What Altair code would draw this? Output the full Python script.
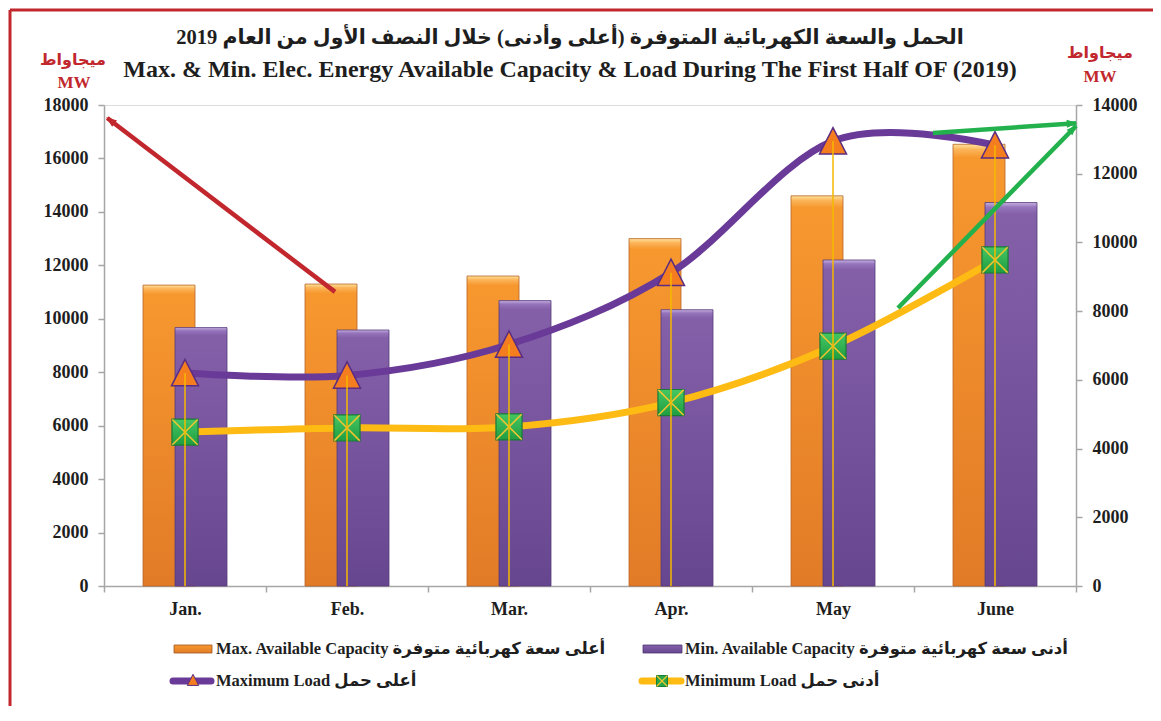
import altair as alt
import pandas as pd

# ---------------- data ----------------
months = ["Jan.", "Feb.", "Mar.", "Apr.", "May", "June"]
max_capacity = [11260, 11300, 11600, 13000, 14600, 16530]
min_capacity = [9670, 9580, 10680, 10340, 12200, 14350]
max_load = [6200, 6130, 7030, 9120, 12950, 12830]
min_load = [4480, 4600, 4630, 5340, 6980, 9490]

left_ticks = list(range(0, 18001, 2000))
right_ticks = list(range(0, 14001, 2000))

title_ar = "الحمل والسعة الكهربائية المتوفرة (أعلى وأدنى) خلال النصف الأول من العام 2019"
title_en = "Max. & Min.  Elec. Energy Available Capacity & Load During The First Half OF (2019)"
unit_ar = "ميجاواط"
unit_en = "MW"
legend_labels = [
    "Max. Available Capacity  أعلى سعة كهربائية متوفرة",
    "Min. Available Capacity أدنى سعة كهربائية متوفرة",
    "Maximum Load أعلى حمل",
    "Minimum Load أدنى حمل",
]

# annotation arrows (x in month-index units 0..6, y in right-axis MW units)
arrow_color = ["#C1272D", "#22B14C", "#22B14C"]
arrow_x0 = [1.426, 4.901, 5.117]
arrow_y0 = [8560, 8090, 13185]
arrow_x1 = [0.02, 6.0, 6.0]
arrow_y1 = [13620, 13390, 13470]
arrow_angle = [307.4, 44.7, 86.4]

df = pd.DataFrame({
    "month": months,
    "max_cap": max_capacity,
    "min_cap": min_capacity,
    "max_load": max_load,
    "min_load": min_load,
})
arrows = pd.DataFrame({
    "color": arrow_color, "x0": arrow_x0, "y0": arrow_y0,
    "x1": arrow_x1, "y1": arrow_y1, "angle": arrow_angle,
})
one = pd.DataFrame({"k": [0]})

# ---------------- style ----------------
W, H = 972, 481
FONT = "Liberation Serif, Times New Roman, DejaVu Sans, serif"
TXT = "#1E1E1E"
AXC = "#A6A6A6"
RED = "#C1272D"

orange_grad = alt.Gradient(
    gradient="linear", x1=0, x2=0, y1=0, y2=1,
    stops=[alt.GradientStop(color="#FFE39A", offset=0),
           alt.GradientStop(color="#FBB55A", offset=0.012),
           alt.GradientStop(color="#F7982F", offset=0.03),
           alt.GradientStop(color="#E27B27", offset=1)])
purple_grad = alt.Gradient(
    gradient="linear", x1=0, x2=0, y1=0, y2=1,
    stops=[alt.GradientStop(color="#C7B2E0", offset=0),
           alt.GradientStop(color="#9675BC", offset=0.012),
           alt.GradientStop(color="#8460A9", offset=0.03),
           alt.GradientStop(color="#674690", offset=1)])
green_grad = alt.Gradient(
    gradient="linear", x1=0, x2=0, y1=0, y2=1,
    stops=[alt.GradientStop(color="#45C763", offset=0),
           alt.GradientStop(color="#1F9D41", offset=1)])

TRI = "M0,-1L1,0.95L-1,0.95Z"
XSHAPE = "M-1,-1L1,1M-1,1L1,-1"
HEAD = "M0,0L0.6,1.6L-0.6,1.6Z"

band = alt.Scale(type="band", domain=months, paddingInner=0, paddingOuter=0)
left_scale = alt.Scale(domain=[0, 18000], nice=False, zero=True)
right_scale = alt.Scale(domain=[0, 14000], nice=False, zero=True)

def xb(axis=None):
    if axis is None:
        return alt.X("month:N", sort=months, scale=band, axis=None, bandPosition=0.5)
    return alt.X("month:N", sort=months, scale=band, axis=axis)

x_axis = alt.Axis(orient="bottom", title=None, tickBand="extent", labelAngle=0,
                  labelFont=FONT, labelFontSize=18, labelFontWeight="bold",
                  labelColor=TXT, labelPadding=8, tickSize=6, tickWidth=1.5,
                  tickColor=AXC, domainColor=AXC, domainWidth=1.5, grid=False)
left_axis = alt.Axis(orient="left", title=None, values=left_ticks, format="d",
                     labelFont=FONT, labelFontSize=18, labelFontWeight="bold",
                     labelColor=TXT, labelPadding=10, tickSize=6, tickWidth=1.5,
                     tickColor=AXC, domainColor=AXC, domainWidth=1.5, grid=False)
right_axis = alt.Axis(orient="right", title=None, values=right_ticks, format="d",
                      labelFont=FONT, labelFontSize=18, labelFontWeight="bold",
                      labelColor=TXT, labelPadding=10, tickSize=6, tickWidth=1.5,
                      tickColor=AXC, domainColor=AXC, domainWidth=1.5, grid=False)

base = alt.Chart(df)

bars_max = base.mark_bar(size=52, xOffset=-16, fill=orange_grad, stroke="#B8652A",
                         strokeWidth=0.8).encode(
    x=xb(x_axis), y=alt.Y("max_cap:Q", scale=left_scale, axis=left_axis))
bars_min = base.mark_bar(size=52, xOffset=16, fill=purple_grad, stroke="#553A7A",
                         strokeWidth=0.8).encode(
    x=alt.X("month:N", sort=months, scale=band, axis=None),
    y=alt.Y("min_cap:Q", scale=left_scale, axis=None))

line_max = base.mark_line(color="#6A3A98", strokeWidth=7, interpolate="cardinal",
                          tension=0).encode(
    x=xb(), y=alt.Y("max_load:Q", scale=right_scale, axis=right_axis))
line_min = base.mark_line(color="#FDBB14", strokeWidth=7, interpolate="cardinal",
                          tension=0).encode(
    x=xb(), y=alt.Y("min_load:Q", scale=right_scale, axis=None))

pts_max = base.mark_point(shape=TRI, filled=True, fill="#F47D20", stroke="#5A2D82",
                          strokeWidth=1.5, size=729, opacity=1).encode(
    x=xb(), y=alt.Y("max_load:Q", scale=right_scale, axis=None))
pts_min = base.mark_point(shape="square", filled=True, fill=green_grad, stroke="#1B7A36",
                          strokeWidth=1.2, size=680, opacity=1).encode(
    x=xb(), y=alt.Y("min_load:Q", scale=right_scale, axis=None))
pts_min_x = base.mark_point(shape=XSHAPE, filled=False, stroke="#F2C530",
                            strokeWidth=1.5, size=640, opacity=1).encode(
    x=xb(), y=alt.Y("min_load:Q", scale=right_scale, axis=None))

drop = base.transform_calculate(zero="0").mark_rule(color="#F5B800", strokeWidth=1.5).encode(
    x=xb(), y=alt.Y("zero:Q", scale=right_scale, axis=None), y2="max_load:Q")

ax_scale = alt.Scale(domain=[0, 6], nice=False, zero=False)
arrow_lines = alt.Chart(arrows).mark_rule(strokeWidth=4.5).encode(
    x=alt.X("x0:Q", scale=ax_scale, axis=None), x2="x1:Q",
    y=alt.Y("y0:Q", scale=right_scale, axis=None), y2="y1:Q",
    color=alt.Color("color:N", scale=None))
arrow_heads = alt.Chart(arrows).mark_point(shape=HEAD, filled=True, size=120,
                                           opacity=1, strokeWidth=1).encode(
    x=alt.X("x1:Q", scale=ax_scale, axis=None),
    y=alt.Y("y1:Q", scale=right_scale, axis=None),
    angle=alt.Angle("angle:Q", scale=None),
    fill=alt.Fill("color:N", scale=None), stroke=alt.Stroke("color:N", scale=None))

def txt(t, x, y, size, color=TXT, align="center", font=FONT):
    return alt.Chart(one).mark_text(text=t, font=font, fontSize=size, fontWeight="bold",
                                    color=color, align=align, baseline="middle").encode(
        x=alt.value(x), y=alt.value(y))

def rule(x, x2, y, y2, color, width, cap="butt"):
    return alt.Chart(one).mark_rule(color=color, strokeWidth=width, strokeCap=cap).encode(
        x=alt.value(x), x2=alt.value(x2), y=alt.value(y), y2=alt.value(y2))

def rect(x, x2, y, y2, fill, stroke):
    return alt.Chart(one).mark_rect(fill=fill, stroke=stroke, strokeWidth=0.8).encode(
        x=alt.value(x), x2=alt.value(x2), y=alt.value(y), y2=alt.value(y2))

def sym(x, y, shape, size, fill, stroke, sw=1.0, filled=True):
    kw = dict(shape=shape, size=size, opacity=1, strokeWidth=sw, stroke=stroke)
    if filled:
        kw.update(filled=True, fill=fill)
    else:
        kw.update(filled=False)
    return alt.Chart(one).mark_point(**kw).encode(x=alt.value(x), y=alt.value(y))

decor = [
    rule(-94, 1060, -95, -95, RED, 3),
    rule(-94, -94, -95, 620, RED, 3),
    txt(title_ar, 466, -67, 20.5),
    txt(title_en, 466, -35, 24),
    txt(unit_ar, -31, -45, 16, RED),
    txt(unit_en, -30, -22, 17, RED),
    txt(unit_ar, 996, -52, 16, RED),
    txt(unit_en, 996, -28, 17, RED),
    # legend
    rect(70, 108, 540, 548, orange_grad, "#A0561F"),
    txt(legend_labels[0], 112, 544, 16.5, align="left"),
    rect(539, 578, 540, 548, purple_grad, "#4E3572"),
    txt(legend_labels[1], 581, 544, 16.5, align="left"),
    rule(69, 107, 576, 576, "#6A3A98", 7, "round"),
    sym(89, 575, TRI, 130, "#F47D20", "#5A2D82", 1),
    txt(legend_labels[2], 112, 576, 16.5, align="left"),
    rule(538, 577, 576, 576, "#FDBB14", 7, "round"),
    sym(558, 576, "square", 120, "#25A74A", "#1B7A36", 1),
    sym(558, 576, XSHAPE, 110, None, "#F2C530", 1.2, filled=False),
    txt(legend_labels[3], 581, 576, 16.5, align="left"),
]

chart = alt.layer(
    bars_max, bars_min, line_max, line_min, pts_max, pts_min, pts_min_x, drop,
    arrow_lines, arrow_heads, *decor
).resolve_scale(
    x="independent", y="independent"
).properties(
    width=W, height=H,
    autosize=alt.AutoSizeParams(type="none"),
    padding={"left": 96, "top": 97, "right": 77, "bottom": 120},
).configure_view(stroke=None).configure(background="white")

chart.save("out.html", embed_options={"renderer": "svg", "actions": False})
